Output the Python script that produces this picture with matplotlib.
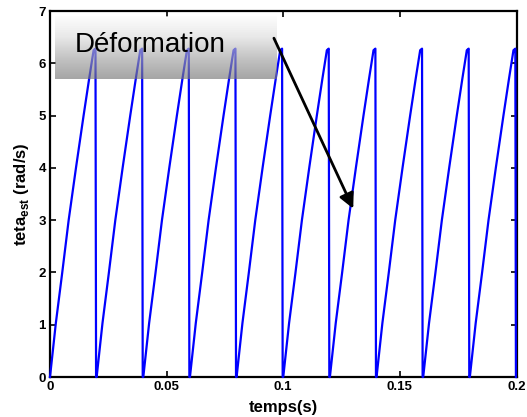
import matplotlib
matplotlib.use('Agg')
import matplotlib.pyplot as plt
import numpy as np
from matplotlib.colors import LinearSegmentedColormap

# Data
period_starts = [0.0, 0.02, 0.04, 0.06, 0.08, 0.10, 0.12, 0.14, 0.16, 0.18]
# shape of one tooth: time from its start (s) and angle (rad)
ramp_dt = [0.0, 0.0025, 0.0052, 0.0080, 0.0112, 0.0144, 0.0168, 0.0187, 0.0195, 0.01975]
ramp_theta = [0.0, 1.03, 1.98, 3.0, 4.02, 5.0, 5.71, 6.25, 6.28, 0.0]

x_ticks = [0, 0.05, 0.1, 0.15, 0.2]
x_tick_labels = ['0', '0.05', '0.1', '0.15', '0.2']
y_ticks = [0, 1, 2, 3, 4, 5, 6, 7]

note_text = 'Déformation'
arrow_start = (0.0960, 6.48)
arrow_tip = (0.1300, 3.22)

plt.rcParams['font.family'] = ['Liberation Sans', 'DejaVu Sans']
plt.rcParams['mathtext.fontset'] = 'custom'
plt.rcParams['mathtext.rm'] = 'Liberation Sans'
plt.rcParams['mathtext.bf'] = 'Liberation Sans:bold'

t = []
theta = []
for s in period_starts:
    for dt, th in zip(ramp_dt, ramp_theta):
        t.append(s + dt)
        theta.append(th)

fig = plt.figure(figsize=(5.27, 4.17), dpi=100)
ax = fig.add_axes([50 / 527, 1 - 377 / 417, 466.5 / 527, 366 / 417])

ax.plot(t, theta, color='#0000ff', lw=1.6, zorder=5, clip_on=False)

ax.set_xlim(0, 0.2)
ax.set_ylim(0, 7)
ax.set_xticks(x_ticks)
ax.set_xticklabels(x_tick_labels)
ax.set_yticks(y_ticks)
ax.tick_params(direction='in', length=4, width=1.2, top=True, right=True,
               labelsize=9.5, pad=3)
for lab in ax.get_xticklabels() + ax.get_yticklabels():
    lab.set_fontweight('bold')
for sp in ax.spines.values():
    sp.set_linewidth(1.6)

ax.set_xlabel('temps(s)', fontsize=12, fontweight='bold', labelpad=5)
ax.set_ylabel(r'teta$_{\bf est}$ (rad/s)', fontsize=12, fontweight='bold', labelpad=5)

# gradient box behind the note
grey = LinearSegmentedColormap.from_list('g', ['#fcfcfc', '#dcdcdc', '#a4a4a4', '#767676'])
grad = np.linspace(0, 1, 64).reshape(-1, 1)
ax.imshow(grad, cmap=grey, aspect='auto', extent=(0.0022, 0.0970, 5.70, 6.89),
          origin='upper', alpha=0.65, zorder=6)
ax.set_xlim(0, 0.2)
ax.set_ylim(0, 7)
ax.text(0.0108, 6.22, note_text, fontsize=20, color='black', zorder=7)

ax.annotate('', xy=arrow_tip, xytext=arrow_start,
            arrowprops=dict(arrowstyle='-|>,head_length=0.9,head_width=0.45',
                            color='black', lw=2, shrinkA=0, shrinkB=0),
            zorder=8)

fig.savefig('out.png', dpi=100)
